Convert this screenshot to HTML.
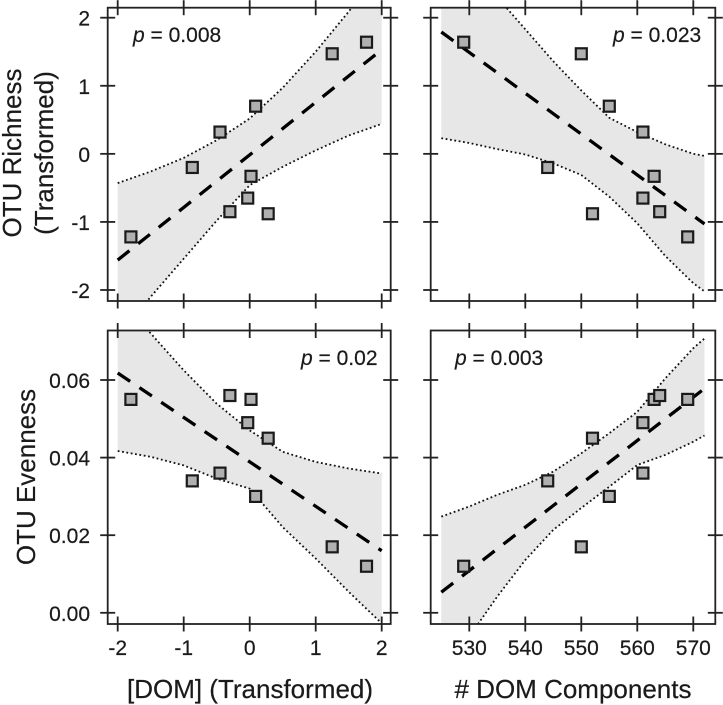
<!DOCTYPE html>
<html>
<head>
<meta charset="utf-8">
<style>
html,body{margin:0;padding:0;background:#fff;}
svg{display:block;filter:blur(0.35px);}
text{font-family:"Liberation Sans",Arial,sans-serif;fill:#1a1a1a;stroke:#1a1a1a;stroke-width:0.2px;}
.tick-label{font-size:21px;}
.title{font-size:26px;}
.p-label{font-size:21px;}
</style>
</head>
<body>
<svg id="chart" xmlns="http://www.w3.org/2000/svg" width="723" height="705" viewBox="0 0 723 705">
  <g id="panels"></g>
  <text class="title" transform="translate(21,153) rotate(-90)" text-anchor="middle">OTU Richness</text>
  <text class="title" transform="translate(53,153) rotate(-90)" text-anchor="middle">(Transformed)</text>
  <text class="title" transform="translate(35,477) rotate(-90)" text-anchor="middle">OTU Evenness</text>
  <text class="title" x="250" y="698" text-anchor="middle">[DOM] (Transformed)</text>
  <text class="title" x="573" y="698" text-anchor="middle"># DOM Components</text>
  <text class="p-label" x="133" y="42"><tspan font-style="italic">p</tspan> = 0.008</text>
  <text class="p-label" x="613" y="42"><tspan font-style="italic">p</tspan> = 0.023</text>
  <text class="p-label" x="301" y="365"><tspan font-style="italic">p</tspan> = 0.02</text>
  <text class="p-label" x="455" y="365"><tspan font-style="italic">p</tspan> = 0.003</text>
</svg>
<script>
// Sample values (same order in every array)
const domValues = [1.77, -0.87, 1.25, 0.28, 0.09, -0.45, -0.03, 0.02, -0.30, -1.80];
const componentValues = [529, 544, 550, 552, 555, 561, 561, 563, 564, 569];
const richnessValues = [1.64, -0.20, 1.47, -0.88, 0.70, 0.32, -0.65, -0.33, -0.85, -1.22];
const evennessValues = [0.012, 0.034, 0.017, 0.045, 0.030, 0.036, 0.049, 0.055, 0.056, 0.055];

// Tick values and labels
const domTicks = [-2, -1, 0, 1, 2];
const domTickLabels = ['-2', '-1', '0', '1', '2'];
const componentTicks = [530, 540, 550, 560, 570];
const componentTickLabels = ['530', '540', '550', '560', '570'];
const richnessTicks = [2, 1, 0, -1, -2];
const richnessTickLabels = ['2', '1', '0', '-1', '-2'];
const evennessTicks = [0.06, 0.04, 0.02, 0];
const evennessTickLabels = ['0.06', '0.04', '0.02', '0.00'];

// Confidence band grids
const domGrid = [-2, -1.5, -1, -0.5, 0, 0.5, 1, 1.5, 2];
const componentGrid = [525, 530, 535, 540, 545, 550, 555, 560, 565, 570, 572];

// Richness vs DOM fit
const richDomFit = [-1.56, 1.53];
const richDomUpper = [-0.43, -0.26, -0.06, 0.20, 0.52, 0.97, 1.50, 2.09, 2.72];
const richDomLower = [-2.69, -2.10, -1.54, -0.98, -0.46, -0.19, 0.05, 0.27, 0.44];

// Richness vs components fit
const richCompFit = [1.79, -1.03];
const richCompUpper = [3.35, 2.72, 2.30, 1.83, 1.36, 0.93, 0.53, 0.32, 0.14, 0.00, -0.03];
const richCompLower = [0.23, 0.16, 0.07, -0.01, -0.14, -0.31, -0.63, -1.02, -1.50, -1.90, -2.02];

// Evenness vs DOM fit
const evenDomFit = [0.0618, 0.0160];
const evenDomUpper = [0.0818, 0.0720, 0.0625, 0.0539, 0.0470, 0.0415, 0.0389, 0.0372, 0.0359];
const evenDomLower = [0.0417, 0.0402, 0.0380, 0.0346, 0.0320, 0.0221, 0.0140, 0.0054, -0.0027];

// Evenness vs components fit
const evenCompFit = [0.0053, 0.0578];
const evenCompUpper = [0.0248, 0.0274, 0.0304, 0.0330, 0.0364, 0.0411, 0.0463, 0.0518, 0.0604, 0.0682, 0.0707];
const evenCompLower = [-0.0142, -0.0061, 0.0042, 0.0136, 0.0214, 0.0270, 0.0325, 0.0381, 0.0407, 0.0441, 0.0457];

const NS = 'http://www.w3.org/2000/svg';
const root = document.getElementById('panels');

function axis(d0, d1, r0, r1) {
  return function (v) { return r0 + (v - d0) * (r1 - r0) / (d1 - d0); };
}
const domAxis = axis(-2, 2, 117.7, 381.7);
const compAxis = axis(530, 570, 469.3, 693.3);
const richAxis = axis(2, -2, 17.7, 290);
const evenAxis = axis(0.06, 0, 380, 612.8);

function make(tag, attrs, parent) {
  const el = document.createElementNS(NS, tag);
  for (const k in attrs) el.setAttribute(k, attrs[k]);
  parent.appendChild(el);
  return el;
}

function drawPanel(id, box, opt) {
  const g = make('g', {}, root);
  
  

  const clipId = 'clip-' + id;
  const defs = make('defs', {}, g);
  const clip = make('clipPath', { id: clipId }, defs);
  make('rect', { x: box.l, y: box.t, width: box.r - box.l, height: box.b - box.t }, clip);

  const plot = make('g', { 'clip-path': 'url(#' + clipId + ')' }, g);
  const sx = opt.sx, sy = opt.sy;
  const n = opt.grid.length;
  const upperPts = [], lowerPts = [];
  for (let i = 0; i < n; i++) {
    upperPts.push(sx(opt.grid[i]).toFixed(1) + ',' + sy(opt.upper[i]).toFixed(1));
    lowerPts.push(sx(opt.grid[i]).toFixed(1) + ',' + sy(opt.lower[i]).toFixed(1));
  }

  const band = make('polygon', { points: upperPts.concat(lowerPts.slice().reverse()).join(' '), fill: '#e7e7e7' }, plot);
  
  

  const up = make('polyline', { points: upperPts.join(' '), fill: 'none', stroke: '#111', 'stroke-width': 1.8, 'stroke-dasharray': '1.8 2.6' }, plot);
  
  

  const low = make('polyline', { points: lowerPts.join(' '), fill: 'none', stroke: '#111', 'stroke-width': 1.8, 'stroke-dasharray': '1.8 2.6' }, plot);
  
  

  const fit = make('line', {
    x1: sx(opt.grid[0]), y1: sy(opt.fit[0]),
    x2: sx(opt.grid[n - 1]), y2: sy(opt.fit[1]),
    stroke: '#000', 'stroke-width': 3.3, 'stroke-dasharray': '15 11.2'
  }, plot);
  
  

  opt.xs.forEach(function (xv, i) {
    const s = 11;
    const pt = make('rect', {
      x: sx(xv) - s / 2, y: sy(opt.ys[i]) - s / 2, width: s, height: s,
      fill: '#b0b0b0', stroke: '#1a1a1a', 'stroke-width': 2.2
    }, g);
    
    
  });

  const frame = make('rect', {
    x: box.l, y: box.t, width: box.r - box.l, height: box.b - box.t,
    fill: 'none', stroke: '#222', 'stroke-width': 1.8
  }, g);
  
  

  const tickLen = 7.5;
  opt.xTicks.forEach(function (v, i) {
    const x = sx(v);
    [box.t, box.b].forEach(function (yy) {
      const t = make('line', { x1: x, x2: x, y1: yy - tickLen, y2: yy + tickLen, stroke: '#222', 'stroke-width': 1.8 }, g);
      
      
    });
    if (opt.showX) {
      const lab = make('text', { x: x, y: 655, 'text-anchor': 'middle', class: 'tick-label' }, g);
      
      
      lab.textContent = opt.xLabels[i];
    }
  });
  opt.yTicks.forEach(function (v, i) {
    const y = sy(v);
    [box.l, box.r].forEach(function (xx) {
      const t = make('line', { x1: xx - tickLen, x2: xx + tickLen, y1: y, y2: y, stroke: '#222', 'stroke-width': 1.8 }, g);
      
      
    });
    if (opt.showY) {
      const lab = make('text', { x: 90, y: y + 8, 'text-anchor': 'end', class: 'tick-label' }, g);
      
      
      lab.textContent = opt.yLabels[i];
    }
  });
}

const leftCol = { l: 107.7, r: 390.7 };
const rightCol = { l: 430.7, r: 715.3 };
const topRow = { t: 7.7, b: 301 };
const botRow = { t: 330.5, b: 624 };

drawPanel('richness-dom', { l: leftCol.l, r: leftCol.r, t: topRow.t, b: topRow.b }, {
  sx: domAxis, sy: richAxis, grid: domGrid, upper: richDomUpper, lower: richDomLower, fit: richDomFit,
  xs: domValues, ys: richnessValues, xTicks: domTicks, xLabels: domTickLabels, yTicks: richnessTicks, yLabels: richnessTickLabels,
  showX: false, showY: true
});
drawPanel('richness-components', { l: rightCol.l, r: rightCol.r, t: topRow.t, b: topRow.b }, {
  sx: compAxis, sy: richAxis, grid: componentGrid, upper: richCompUpper, lower: richCompLower, fit: richCompFit,
  xs: componentValues, ys: richnessValues, xTicks: componentTicks, xLabels: componentTickLabels, yTicks: richnessTicks, yLabels: richnessTickLabels,
  showX: false, showY: false
});
drawPanel('evenness-dom', { l: leftCol.l, r: leftCol.r, t: botRow.t, b: botRow.b }, {
  sx: domAxis, sy: evenAxis, grid: domGrid, upper: evenDomUpper, lower: evenDomLower, fit: evenDomFit,
  xs: domValues, ys: evennessValues, xTicks: domTicks, xLabels: domTickLabels, yTicks: evennessTicks, yLabels: evennessTickLabels,
  showX: true, showY: true
});
drawPanel('evenness-components', { l: rightCol.l, r: rightCol.r, t: botRow.t, b: botRow.b }, {
  sx: compAxis, sy: evenAxis, grid: componentGrid, upper: evenCompUpper, lower: evenCompLower, fit: evenCompFit,
  xs: componentValues, ys: evennessValues, xTicks: componentTicks, xLabels: componentTickLabels, yTicks: evennessTicks, yLabels: evennessTickLabels,
  showX: true, showY: false
});
</script>
</body>
</html>
